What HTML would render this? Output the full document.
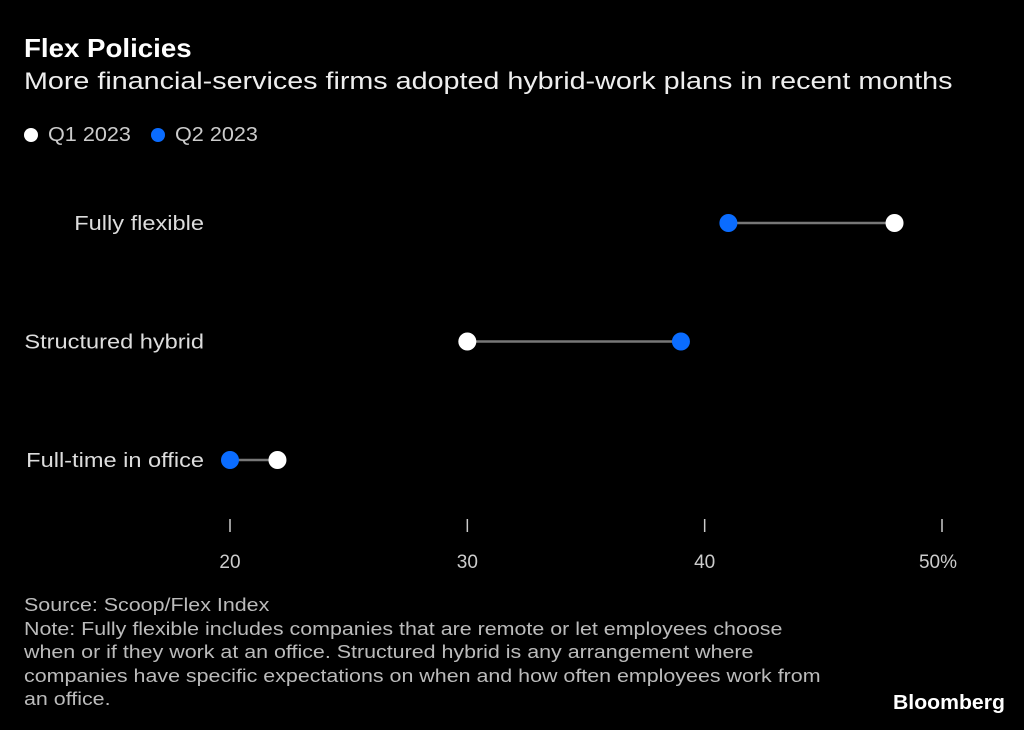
<!DOCTYPE html>
<html><head><meta charset="utf-8"><style>
body{margin:0;background:#000;width:1024px;height:730px;overflow:hidden;font-family:"Liberation Sans",sans-serif;color:#fff;position:relative}
.t{position:absolute;white-space:nowrap;transform-origin:0 0}
</style></head><body>
<div class="t" style="left:24px;top:33px;font-size:26px;font-weight:bold;transform:scaleX(1.064)">Flex Policies</div>
<div class="t" style="left:24px;top:68px;font-size:24px;color:#eee;transform:scaleX(1.196)">More financial-services firms adopted hybrid-work plans in recent months</div>
<div class="t" style="left:24px;top:124px;font-size:20px;color:#ccc"><span style="display:inline-block;width:14px;height:14px;border-radius:50%;background:#fff;margin-right:10px;vertical-align:-1px"></span><span style="display:inline-block;transform:scaleX(1.08);transform-origin:0 0">Q1 2023</span></div>
<div class="t" style="left:151px;top:124px;font-size:20px;color:#ccc"><span style="display:inline-block;width:14px;height:14px;border-radius:50%;background:#0a6cff;margin-right:10px;vertical-align:-1px"></span><span style="display:inline-block;transform:scaleX(1.08);transform-origin:0 0">Q2 2023</span></div>
<svg id="c" width="1024" height="600" style="position:absolute;left:0;top:0"></svg>
<div class="t" style="left:24px;top:594px;font-size:18px;line-height:23.5px;color:#bbb;transform:scaleX(1.19)">Source: Scoop/Flex Index<br>Note: Fully flexible includes companies that are remote or let employees choose<br>when or if they work at an office. Structured hybrid is any arrangement where<br>companies have specific expectations on when and how often employees work from<br>an office.</div>
<div class="t" style="left:893px;top:692px;font-size:20px;font-weight:bold;transform:scaleX(1.06)">Bloomberg</div>
<script>
const categories=["Fully flexible","Structured hybrid","Full-time in office"];
const q1=[48,30,22];
const q2=[41,39,20];
const ticks=[20,30,40,50];
const tickLabels=["20","30","40","50%"];
const svg=document.getElementById('c');const NS="http://www.w3.org/2000/svg";
const x=v=>230+(v-20)*(942-230)/30;
const y=i=>223+i*118.5;
function mk(t,a){const e=document.createElementNS(NS,t);for(const k in a)e.setAttribute(k,a[k]);svg.appendChild(e);return e;}
ticks.forEach((t,i)=>{
const l=mk('line',{x1:x(t),x2:x(t),y1:519,y2:532,stroke:'#ccc','stroke-width':1.5});


const tx=mk('text',{x:x(t)+(i==3?-4:0),y:568,fill:'#ccc','font-size':19,'text-anchor':'middle','font-family':'Liberation Sans'});
tx.textContent=tickLabels[i];


});
categories.forEach((c,i)=>{
const lb=mk('text',{x:0,y:0,transform:'translate(204,'+(y(i)+7)+') scale(1.18,1)',fill:'#ddd','font-size':20,'text-anchor':'end','font-family':'Liberation Sans'});
lb.textContent=c;


const ln=mk('line',{x1:x(q1[i]),x2:x(q2[i]),y1:y(i),y2:y(i),stroke:'#777','stroke-width':2.5});


const a=mk('circle',{cx:x(q1[i]),cy:y(i),r:9,fill:'#fff'});


const b=mk('circle',{cx:x(q2[i]),cy:y(i),r:9,fill:'#0a6cff'});


});
</script>
</body></html>
